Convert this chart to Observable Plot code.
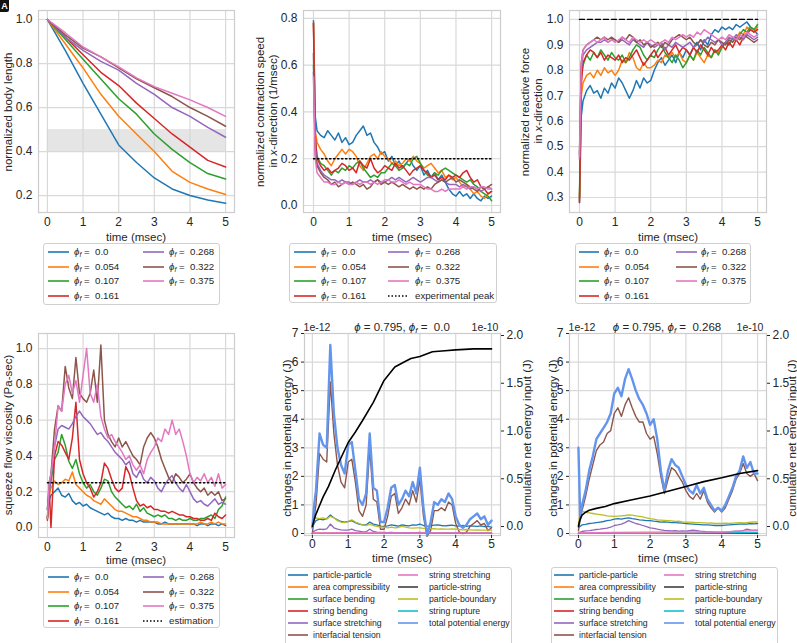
<!DOCTYPE html>
<html><head><meta charset="utf-8">
<script src="https://cdn.jsdelivr.net/npm/d3@7"></script>
<script src="https://cdn.jsdelivr.net/npm/@observablehq/plot@0.6"></script>
<style>
html,body{margin:0;padding:0;background:#fff;}
#fig{position:relative;width:797px;height:643px;overflow:hidden;background:#fff;font-family:"Liberation Sans",Arial,Helvetica,sans-serif;color:#262626;}
#fig svg{position:absolute;}
.lab{position:absolute;white-space:nowrap;font-size:11.5px;line-height:12px;text-align:center;}
.rot{transform:translate(-50%,-50%) rotate(-90deg);}
.hc{transform:translate(-50%,-50%);}
.leg{position:absolute;box-sizing:border-box;border:1px solid #d0d0d0;border-radius:3px;background:#fff;color:#262626;}
.leg svg.ln{position:absolute;overflow:visible;}
.leg .tx{position:absolute;white-space:nowrap;transform:translateY(-50%);line-height:1;}
sub.s{font-size:70%;vertical-align:-0.3em;line-height:0;}
</style></head><body><div id="fig"></div><script>
// ---------------- DATA ----------------
const xTicks = [0,1,2,3,4,5];
const phiLabels = ["0.0","0.054","0.107","0.161","0.268","0.322","0.375"];
// time grid for the noisy series (msec)
const tN = [0,0.05,0.1,0.2,0.3,0.4,0.5,0.6,0.7,0.8,0.9,1.0,1.1,1.2,1.3,1.4,1.5,1.6,1.7,1.8,1.9,2.0,2.1,2.2,2.3,2.4,2.5,2.6,2.7,2.8,2.9,3.0,3.1,3.2,3.3,3.4,3.5,3.6,3.7,3.8,3.9,4.0,4.1,4.2,4.3,4.4,4.5,4.6,4.7,4.8,4.9,5.0];
// (A) normalized body length
const tA = [0,0.5,1,1.5,2,2.5,3,3.5,4,4.5,5];
const len0   = [1.0,0.86,0.71,0.57,0.43,0.35,0.28,0.23,0.20,0.18,0.165];
const len054 = [1.0,0.89,0.78,0.66,0.56,0.48,0.40,0.31,0.26,0.23,0.205];
const len107 = [1.0,0.91,0.82,0.73,0.64,0.57,0.48,0.41,0.35,0.30,0.275];
const len161 = [1.0,0.92,0.84,0.76,0.70,0.62,0.55,0.48,0.42,0.36,0.33];
const len268 = [1.0,0.92,0.86,0.81,0.77,0.71,0.66,0.60,0.56,0.51,0.465];
const len322 = [1.0,0.93,0.87,0.83,0.78,0.73,0.69,0.65,0.60,0.56,0.515];
const len375 = [1.0,0.94,0.875,0.83,0.785,0.735,0.695,0.665,0.635,0.60,0.56];
const bandA = [0.4,0.5];
const yTicksA = [0.2,0.4,0.6,0.8,1.0];
// (B) contraction speed
const spd0   = [0.79,0.38, 0.32,0.30,0.29,0.32,0.30,0.28,0.31,0.27,0.29,0.26, 0.27,0.30,0.32,0.34,0.30,0.31,0.27,0.25,0.22,0.23, 0.19,0.21,0.17,0.19,0.16,0.18,0.20,0.17,0.15,0.17, 0.13,0.15,0.12,0.14,0.11,0.13,0.10,0.07,0.05,0.04, 0.06,0.04,0.05,0.03,0.05,0.03,0.02,0.04,0.03,0.04];
const spd054 = [0.78,0.32, 0.27,0.24,0.22,0.19,0.17,0.20,0.22,0.24,0.22,0.24, 0.23,0.21,0.17,0.15,0.18,0.21,0.22,0.20,0.23,0.21, 0.20,0.18,0.19,0.17,0.18,0.20,0.19,0.21,0.19,0.18, 0.16,0.17,0.18,0.16,0.14,0.15,0.12,0.13,0.11,0.12, 0.10,0.08,0.09,0.07,0.05,0.06,0.04,0.03,0.05,0.06];
const spd107 = [0.60,0.28, 0.21,0.18,0.17,0.15,0.13,0.15,0.14,0.16,0.15,0.17, 0.16,0.18,0.19,0.16,0.14,0.12,0.13,0.12,0.14,0.14, 0.16,0.18,0.17,0.15,0.16,0.18,0.17,0.20,0.21,0.18, 0.15,0.13,0.12,0.14,0.13,0.15,0.16,0.15,0.14,0.13, 0.12,0.11,0.10,0.11,0.09,0.08,0.06,0.05,0.04,0.02];
const spd161 = [0.78,0.30, 0.20,0.17,0.15,0.16,0.14,0.15,0.16,0.18,0.17,0.15, 0.16,0.14,0.19,0.17,0.16,0.20,0.16,0.14,0.15,0.17, 0.16,0.15,0.18,0.16,0.17,0.15,0.13,0.15,0.16,0.17, 0.15,0.14,0.12,0.13,0.11,0.12,0.11,0.13,0.12,0.13, 0.12,0.14,0.15,0.12,0.10,0.11,0.08,0.07,0.05,0.06];
const spd268 = [0.57,0.25, 0.18,0.15,0.13,0.12,0.11,0.11,0.10,0.11,0.10,0.10, 0.09,0.10,0.11,0.10,0.10,0.11,0.10,0.11,0.10,0.10, 0.11,0.12,0.11,0.12,0.11,0.10,0.11,0.12,0.11,0.10, 0.11,0.12,0.12,0.11,0.10,0.11,0.10,0.09,0.09,0.09, 0.08,0.09,0.08,0.07,0.08,0.07,0.06,0.07,0.08,0.07];
const spd322 = [0.65,0.22, 0.17,0.14,0.12,0.11,0.09,0.10,0.08,0.09,0.10,0.09, 0.10,0.09,0.08,0.09,0.07,0.08,0.10,0.11,0.09,0.10, 0.09,0.10,0.09,0.08,0.09,0.08,0.07,0.08,0.07,0.08, 0.07,0.08,0.07,0.09,0.10,0.11,0.10,0.11,0.12,0.10, 0.11,0.10,0.09,0.08,0.07,0.06,0.08,0.07,0.08,0.09];
const spd375 = [0.55,0.20, 0.14,0.12,0.10,0.10,0.09,0.09,0.10,0.09,0.10,0.09, 0.09,0.10,0.09,0.10,0.10,0.09,0.10,0.09,0.10,0.11, 0.11,0.10,0.10,0.11,0.10,0.09,0.10,0.09,0.09,0.09, 0.08,0.07,0.07,0.06,0.06,0.07,0.06,0.07,0.07,0.07, 0.07,0.08,0.07,0.08,0.08,0.07,0.08,0.08,0.07,0.07];
const expPeak = 0.2;
const yTicksB = [0.0,0.2,0.4,0.6,0.8];
// (C) reactive force
const frc0   = [0.28,0.62, 0.68,0.72,0.74,0.71,0.72,0.69,0.73,0.71,0.75,0.73, 0.77,0.75,0.72,0.69,0.72,0.76,0.73,0.77,0.75,0.76, 0.80,0.83,0.85,0.82,0.84,0.86,0.83,0.87,0.85,0.88, 0.86,0.89,0.91,0.88,0.92,0.90,0.94,0.96,0.95,0.97, 0.96,0.97,0.96,0.98,0.97,0.98,0.99,0.97,0.96,0.94];
const frc054 = [0.29,0.70, 0.75,0.78,0.79,0.77,0.80,0.78,0.81,0.79,0.80,0.78, 0.80,0.84,0.83,0.87,0.85,0.81,0.80,0.83,0.81,0.81, 0.82,0.84,0.83,0.86,0.85,0.87,0.85,0.87,0.84,0.83, 0.86,0.84,0.87,0.85,0.83,0.86,0.85,0.88,0.87,0.89, 0.91,0.90,0.93,0.92,0.95,0.94,0.97,0.96,0.95,0.97];
const frc107 = [0.30,0.78, 0.82,0.86,0.84,0.87,0.85,0.88,0.86,0.84,0.87,0.85, 0.84,0.86,0.83,0.85,0.88,0.90,0.89,0.86,0.84,0.86, 0.85,0.88,0.90,0.87,0.85,0.83,0.86,0.84,0.81,0.83, 0.86,0.84,0.88,0.86,0.89,0.87,0.85,0.88,0.86,0.89, 0.91,0.90,0.93,0.92,0.94,0.96,0.95,0.97,0.96,0.98];
const frc161 = [0.28,0.74, 0.83,0.86,0.88,0.87,0.85,0.87,0.84,0.86,0.85,0.84, 0.86,0.83,0.85,0.84,0.86,0.88,0.85,0.82,0.84,0.86, 0.88,0.85,0.87,0.89,0.86,0.88,0.90,0.87,0.89,0.88, 0.86,0.89,0.87,0.90,0.88,0.86,0.89,0.87,0.88,0.90, 0.88,0.91,0.89,0.92,0.90,0.93,0.94,0.96,0.95,0.96];
const frc268 = [0.45,0.80, 0.86,0.88,0.89,0.90,0.91,0.91,0.92,0.91,0.92,0.92, 0.91,0.92,0.91,0.90,0.92,0.91,0.90,0.89,0.91,0.90, 0.89,0.90,0.91,0.88,0.90,0.89,0.91,0.90,0.89,0.90, 0.91,0.89,0.90,0.92,0.91,0.93,0.92,0.91,0.92,0.90, 0.91,0.93,0.92,0.94,0.93,0.92,0.94,0.93,0.92,0.93];
const frc322 = [0.47,0.83, 0.88,0.90,0.91,0.92,0.93,0.92,0.93,0.92,0.93,0.92, 0.91,0.93,0.92,0.94,0.93,0.91,0.92,0.90,0.91,0.89, 0.90,0.91,0.89,0.91,0.90,0.92,0.93,0.94,0.93,0.92, 0.93,0.91,0.90,0.92,0.90,0.89,0.91,0.90,0.92,0.91, 0.90,0.92,0.91,0.93,0.92,0.94,0.93,0.92,0.91,0.92];
const frc375 = [0.46,0.82, 0.88,0.90,0.91,0.92,0.91,0.92,0.93,0.91,0.92,0.91, 0.92,0.93,0.92,0.91,0.93,0.92,0.91,0.92,0.91,0.92, 0.91,0.90,0.91,0.92,0.91,0.93,0.92,0.93,0.94,0.93, 0.94,0.93,0.95,0.94,0.96,0.95,0.94,0.93,0.92,0.93, 0.92,0.94,0.93,0.92,0.94,0.93,0.95,0.94,0.93,0.94];
const forceRef = 1.0;
const yTicksC = [0.3,0.4,0.5,0.6,0.7,0.8,0.9,1.0];
// (D) squeeze flow viscosity
const vis0   = [0.05,0.15, 0.18,0.20,0.22,0.18,0.17,0.19,0.15,0.13,0.14,0.12, 0.13,0.11,0.10,0.09,0.08,0.07,0.08,0.06,0.05,0.05, 0.04,0.05,0.04,0.04,0.03,0.04,0.03,0.03,0.03,0.03, 0.02,0.02,0.03,0.02,0.02,0.02,0.02,0.02,0.02,0.02, 0.02,0.01,0.02,0.02,0.01,0.02,0.02,0.01,0.02,0.01];
const vis054 = [0.05,0.18, 0.22,0.26,0.24,0.25,0.27,0.26,0.31,0.24,0.22,0.20, 0.18,0.17,0.15,0.14,0.13,0.16,0.14,0.12,0.10,0.09, 0.09,0.08,0.07,0.06,0.06,0.05,0.04,0.04,0.03,0.03, 0.03,0.02,0.02,0.02,0.02,0.02,0.02,0.02,0.02,0.02, 0.02,0.02,0.03,0.02,0.02,0.03,0.02,0.03,0.02,0.02];
const vis107 = [0.05,0.20, 0.26,0.38,0.42,0.52,0.46,0.37,0.33,0.38,0.30,0.25, 0.22,0.24,0.20,0.18,0.22,0.27,0.26,0.20,0.17,0.15, 0.13,0.11,0.12,0.10,0.13,0.09,0.11,0.08,0.07,0.06, 0.07,0.06,0.07,0.05,0.05,0.04,0.05,0.04,0.04,0.05, 0.04,0.04,0.05,0.05,0.06,0.07,0.05,0.10,0.12,0.17];
const vis161 = [0.04,0.22, 0.00,0.40,0.48,0.46,0.42,0.38,0.50,0.70,0.38,0.30, 0.25,0.22,0.17,0.20,0.25,0.36,0.33,0.27,0.22,0.20, 0.22,0.34,0.30,0.22,0.15,0.12,0.13,0.11,0.12,0.10, 0.10,0.09,0.09,0.08,0.09,0.08,0.07,0.07,0.06,0.06, 0.05,0.05,0.04,0.04,0.05,0.04,0.08,0.06,0.05,0.07];
const vis268 = [0.10,0.20, 0.28,0.45,0.55,0.57,0.56,0.55,0.58,0.62,0.65,0.62, 0.60,0.58,0.55,0.52,0.53,0.50,0.48,0.45,0.42,0.40, 0.38,0.35,0.37,0.30,0.28,0.32,0.27,0.25,0.28,0.26, 0.22,0.20,0.24,0.27,0.29,0.25,0.22,0.20,0.24,0.20, 0.16,0.14,0.15,0.13,0.12,0.14,0.16,0.13,0.14,0.13];
const vis322 = [0.10,0.25, 0.30,0.55,0.68,0.65,0.90,0.78,0.72,0.95,0.75,0.72, 0.70,0.75,0.88,0.70,1.02,0.60,0.52,0.48,0.45,0.50, 0.45,0.48,0.44,0.40,0.38,0.35,0.45,0.50,0.53,0.50, 0.45,0.38,0.33,0.28,0.25,0.30,0.28,0.25,0.27,0.30, 0.25,0.22,0.20,0.22,0.18,0.20,0.18,0.20,0.15,0.16];
const vis375 = [0.05,0.25, 0.30,0.45,0.68,0.65,0.80,0.85,0.75,0.82,0.70,0.85, 1.00,0.75,0.70,0.80,0.62,0.55,0.50,0.52,0.48,0.45, 0.42,0.38,0.40,0.35,0.32,0.35,0.30,0.38,0.42,0.45, 0.50,0.48,0.55,0.52,0.60,0.52,0.55,0.48,0.40,0.30, 0.25,0.28,0.26,0.30,0.25,0.28,0.23,0.30,0.22,0.24];
const estimation = 0.25;
const yTicksD = [0.0,0.2,0.4,0.6,0.8,1.0];
// (E,F) energies, left axis in 1e-12 J, right axis in 1e-10 J
const energyLabels = ["particle-particle","area compressibility","surface bending","string bending","surface stretching","interfacial tension","string stretching","particle-string","particle-boundary","string rupture","total potential energy"];
const yTicksLeft = [0,1,2,3,4,5,6,7];
const yTicksRight = [0.0,0.5,1.0,1.5,2.0];
const tFlat = [0,1,2,3,4,5];
const E_pp    = [0.20,0.35, 0.45,0.50,0.48,0.52,0.65,0.55,0.48,0.42,0.40,0.42, 0.45,0.38,0.33,0.30,0.30,0.40,0.33,0.30,0.26,0.25, 0.27,0.30,0.28,0.26,0.30,0.28,0.27,0.30,0.29,0.33, 0.28,0.26,0.27,0.29,0.30,0.28,0.27,0.28,0.29,0.27, 0.26,0.28,0.25,0.27,0.26,0.25,0.27,0.24,0.25,0.22];
const E_area  = [0.01,0.01,0.01,0.01,0.01,0.01];
const E_sbend = [0,0,0,0,0,0];
const E_strb  = [0,0,0,0,0,0];
const E_sstr  = [0.00,0.08, 0.12,0.15,0.14,0.16,0.33,0.20,0.15,0.13,0.12,0.12, 0.15,0.10,0.08,0.06,0.06,0.15,0.07,0.05,0.04,0.04, 0.03,0.04,0.03,0.03,0.03,0.03,0.03,0.03,0.03,0.04, 0.02,0.02,0.02,0.02,0.02,0.02,0.02,0.02,0.02,0.02, 0.02,0.02,0.02,0.02,0.02,0.02,0.02,0.02,0.02,0.02];
const E_itf   = [0.00,0.60, 1.00,2.80,2.60,2.50,5.30,3.50,2.40,1.80,1.60,2.50, 2.60,1.80,0.80,0.60,1.00,3.00,1.20,1.10,0.15,0.15, 0.60,1.30,1.40,0.70,0.90,1.20,1.00,1.50,1.10,1.90, 0.60,-0.10,0.10,0.80,0.80,0.90,0.80,1.10,1.00,0.35, 0.05,0.00,0.05,0.25,0.35,0.45,0.30,0.35,0.10,0.20];
const E_strs  = [0.02,0.03,0.02,0.02,0.02,0.02];
const E_pstr  = [0,0,0,0,0,0];
const E_pb    = [0.30,0.50, 0.55,0.52,0.55,0.50,0.60,0.55,0.45,0.40,0.38,0.42, 0.48,0.40,0.35,0.30,0.28,0.32,0.28,0.25,0.22,0.22, 0.20,0.22,0.20,0.21,0.25,0.22,0.20,0.19,0.20,0.20, 0.18,0.17,0.16,0.17,0.15,0.16,0.15,0.15,0.16,0.15, 0.14,0.13,0.14,0.13,0.12,0.13,0.12,0.12,0.12,0.12];
const E_rupt  = [0,0,0,0,0,0];
const E_total = [0.20,1.00, 1.50,3.50,3.10,3.00,6.60,4.20,3.00,2.40,2.10,3.10, 3.20,2.20,1.20,1.00,1.40,3.50,1.60,1.50,0.40,0.40, 0.90,1.60,1.70,1.00,1.20,1.50,1.30,1.80,1.40,2.30, 0.90,-0.05,0.40,1.10,1.00,1.20,1.10,1.40,1.20,0.60, 0.30,0.20,0.30,0.50,0.60,0.70,0.50,0.60,0.30,0.45];
const tEcum = [0,0.05,0.1,0.2,0.3,0.45,0.65,0.8,1.0,1.2,1.4,1.7,2.0,2.3,2.6,2.75,3.0,3.35,3.7,4.0,4.5,5.0];
const E_cum = [0.0,0.07,0.13,0.22,0.31,0.42,0.60,0.72,0.88,0.99,1.11,1.30,1.53,1.67,1.73,1.76,1.78,1.83,1.84,1.85,1.86,1.86];
const tFlat7 = [0,1,2,3,4,4.5,5];
const F_pp    = [0.20,0.25, 0.30,0.32,0.35,0.36,0.38,0.40,0.42,0.45,0.47,0.50, 0.52,0.50,0.53,0.55,0.52,0.50,0.48,0.47,0.45,0.45, 0.43,0.42,0.40,0.41,0.40,0.38,0.38,0.37,0.36,0.35, 0.34,0.33,0.32,0.31,0.30,0.30,0.29,0.28,0.28,0.28, 0.29,0.30,0.31,0.32,0.33,0.34,0.33,0.35,0.34,0.35];
const F_area  = [0.01,0.01,0.01,0.01,0.01,0.01];
const F_sbend = [0,0,0,0,0,0];
const F_strb  = [0,0,0,0,0,0];
const F_sstr  = [0.02,0.05, 0.07,0.09,0.10,0.12,0.14,0.15,0.17,0.19,0.22,0.28, 0.30,0.33,0.38,0.45,0.40,0.35,0.32,0.28,0.24,0.20, 0.18,0.15,0.13,0.11,0.10,0.09,0.10,0.08,0.09,0.08, 0.10,0.12,0.10,0.08,0.07,0.06,0.06,0.05,0.05,0.05, 0.05,0.06,0.07,0.08,0.08,0.10,0.15,0.13,0.12,0.12];
const F_itf   = [0.10,0.50, 0.80,1.30,1.90,2.40,2.90,3.10,3.20,3.50,3.60,4.20, 4.40,4.10,4.50,4.75,4.40,4.10,3.90,3.90,3.50,3.30, 3.40,2.80,2.00,1.40,1.90,2.30,2.20,2.00,1.80,1.50, 1.30,1.20,1.40,1.20,1.50,1.10,0.90,0.75,0.90,0.75, 0.90,1.20,1.50,1.90,2.10,2.45,2.10,2.00,2.10,1.85];
const F_strs  = [0.02,0.04,0.05,0.06,0.05,0.08,0.10];
const F_pstr  = [0,0,0,0,0,0];
const F_pb    = [0.30,0.75, 0.78,0.74,0.72,0.70,0.68,0.66,0.64,0.62,0.61,0.60, 0.61,0.62,0.63,0.65,0.64,0.62,0.60,0.58,0.55,0.52, 0.50,0.48,0.47,0.46,0.45,0.44,0.42,0.43,0.41,0.40, 0.40,0.39,0.38,0.38,0.37,0.36,0.37,0.35,0.35,0.35, 0.36,0.35,0.36,0.37,0.38,0.37,0.38,0.40,0.41,0.40];
const F_rupt  = [0,0,0,0.01,0.02,0.04];
const F_total = [3.00,0.50, 1.00,1.50,2.20,2.70,3.30,3.50,3.70,3.90,4.20,4.90, 5.10,4.80,5.40,5.75,5.40,5.00,4.70,4.50,4.20,3.80, 4.00,3.30,2.20,1.50,2.20,2.60,2.40,2.30,2.00,1.70, 1.50,1.40,1.70,1.40,1.60,1.20,1.00,0.80,0.90,0.80, 1.00,1.30,1.60,2.00,2.20,2.70,2.30,2.50,2.10,2.10];
const tFcum = [0,0.02,0.05,0.1,0.2,0.3,0.5,0.75,1.0,1.5,2.0,2.5,3.0,3.5,4.0,4.5,5.0];
const F_cum = [0.0,0.04,0.08,0.12,0.15,0.17,0.19,0.21,0.24,0.28,0.32,0.37,0.42,0.47,0.51,0.555,0.585];

// ---------------- STYLE ----------------
const FONT = '"Liberation Sans", Arial, Helvetica, sans-serif';
const INK = "#262626", GRID = "#d9d9d9", EDGE = "#cccccc";
const C7 = ["#1f77b4","#ff7f0e","#2ca02c","#d62728","#9467bd","#8c564b","#e377c2"];
const CE = ["#1f77b4","#ff7f0e","#2ca02c","#d62728","#9467bd","#8c564b","#e377c2","#404040","#bcbd22","#17becf","#6495ed"];
const fig = document.getElementById("fig");
const M = {l:50, r:50, t:25, b:45};
const SVGNS = "http://www.w3.org/2000/svg";

const ser = (t, v, color, w=1.5, y=(d)=>d) =>
  Plot.line(t.map((x,i)=>[x, y(v[i])]), {x:d=>d[0], y:d=>d[1], stroke:color, strokeWidth:w});
const hline = (val, dash) => Plot.line([[0,val],[5,val]], {x:d=>d[0], y:d=>d[1], stroke:"#000", strokeWidth:1.4, strokeDasharray:dash});

function panel(o){
  const [x0,y0,x1,y1] = o.frame;
  const ts = o.ticked ? 3 : 0;
  const marks = [
    Plot.gridX({ticks:xTicks, stroke:GRID, strokeOpacity:1, strokeWidth:1.2}),
    Plot.gridY({ticks:o.yTicks, stroke:GRID, strokeOpacity:1, strokeWidth:1.2}),
    ...(o.under||[]),
    Plot.frame({stroke:EDGE, strokeWidth:1.2}),
    ...o.marks,
    Plot.axisX({ticks:xTicks, tickSize:ts, tickPadding:o.ticked?0.5:5, tickFormat:d=>String(d), label:null}),
    Plot.axisY({ticks:o.yTicks, tickSize:ts, tickPadding:o.ticked?3:6, tickFormat:o.yFmt, label:null}),
    ...(o.extra||[])
  ];
  const svg = Plot.plot({
    width:(x1-x0)+M.l+M.r, height:(y1-y0)+M.t+M.b,
    marginLeft:M.l, marginRight:M.r, marginTop:M.t, marginBottom:M.b,
    x:{domain:o.xDomain}, y:{domain:o.yDomain},
    style:{fontSize:"12px", fontFamily:FONT, color:INK, background:"none", overflow:"visible"},
    marks
  });
  svg.style.left = (x0-M.l)+"px"; svg.style.top = (y0-M.t)+"px";
  fig.appendChild(svg);
}
function label(html, x, y, cls, size){
  const d = document.createElement("div");
  d.className = "lab " + cls; d.innerHTML = html;
  d.style.left = x+"px"; d.style.top = y+"px";
  if (size) d.style.fontSize = size+"px";
  fig.appendChild(d);
}
function legend(o){
  const box = document.createElement("div"); box.className = "leg";
  Object.assign(box.style, {left:o.left+"px", top:o.top+"px", width:o.width+"px", height:o.height+"px", fontSize:o.fs+"px"});
  o.cols.forEach(c => c.items.forEach((it,i) => {
    const y = o.rows[i];
    const s = document.createElementNS(SVGNS, "svg"); s.setAttribute("class","ln");
    s.setAttribute("width", c.l1-c.l0); s.setAttribute("height", 4);
    s.style.left = c.l0+"px"; s.style.top = (y-2)+"px";
    const l = document.createElementNS(SVGNS, "line");
    l.setAttribute("x1",0); l.setAttribute("x2",c.l1-c.l0); l.setAttribute("y1",2); l.setAttribute("y2",2);
    l.setAttribute("stroke", it.color); l.setAttribute("stroke-width", 1.6);
    if (it.dash) l.setAttribute("stroke-dasharray", it.dash);
    s.appendChild(l);
    const tx = document.createElement("div"); tx.className = "tx";
    tx.style.left = c.tx+"px"; tx.style.top = y+"px"; tx.innerHTML = it.html;
    box.append(s, tx);
  }));
  fig.appendChild(box);
}
const phiHtml = v => `<i>ϕ</i><sub class="s"><i>f</i></sub> =&nbsp; ${v}`;
const phiItems = phiLabels.map((v,i)=>({html:phiHtml(v), color:C7[i]}));
const f1 = d => d.toFixed(1);

// ---------------- PANEL A ----------------
panel({frame:[38,10,234,212], xDomain:[-0.25,5.25], yDomain:[0.123,1.041], yTicks:yTicksA, yFmt:f1,
  under:[Plot.rect([bandA], {x1:0, x2:5, y1:d=>d[0], y2:d=>d[1], fill:"#d4d4d4", fillOpacity:0.6})],
  marks:[len0,len054,len107,len161,len268,len322,len375].map((v,i)=>ser(tA,v,C7[i],1.5))});
// ---------------- PANEL B ----------------
panel({frame:[303,10,500,212], xDomain:[-0.28,5.25], yDomain:[-0.030,0.834], yTicks:yTicksB, yFmt:f1,
  marks:[...[spd0,spd054,spd107,spd161,spd268,spd322,spd375].map((v,i)=>ser(tN,v,C7[i],1.5)), hline(expPeak,"1.5,2.5")]});
// ---------------- PANEL C ----------------
panel({frame:[569,10,766,212], xDomain:[-0.28,5.25], yDomain:[0.241,1.035], yTicks:yTicksC, yFmt:f1,
  marks:[...[frc0,frc054,frc107,frc161,frc268,frc322,frc375].map((v,i)=>ser(tN,v,C7[i],1.5)), hline(forceRef,"5,3")]});
// ---------------- PANEL D ----------------
panel({frame:[38,333,234,537], xDomain:[-0.25,5.25], yDomain:[-0.056,1.084], yTicks:yTicksD, yFmt:f1,
  marks:[...[vis0,vis054,vis107,vis161,vis268,vis322,vis375].map((v,i)=>ser(tN,v,C7[i],1.5)), hline(estimation,"1.5,2.5")]});

// ---------------- PANELS E, F (dual axis) ----------------
function energyPanel(frame, xDomain, S){
  const L0=-0.07, L1=7.0, R0=-0.094, R1=2.021;
  const toL = v => L0 + (v-R0)/(R1-R0)*(L1-L0);
  const fromL = d => R0 + (d-L0)/(L1-L0)*(R1-R0);
  panel({frame, xDomain, yDomain:[L0,L1], yTicks:yTicksLeft, yFmt:d=>String(d), ticked:true,
    marks:[
      ser(tFlat,S.area,CE[1],1.2), ser(tFlat,S.sbend,CE[2],1.2), ser(tFlat,S.strb,CE[3],1.2),
      ser(tFlat,S.pstr,CE[7],1.2), ser(tFlat,S.rupt,CE[9],1.2),
      ser(tN,S.pp,CE[0],1.3), ser(tN,S.sstr,CE[4],1.3), ser(tN,S.itf,CE[5],1.4),
      ser(S.tStrs,S.strs,CE[6],1.3), ser(tN,S.pb,CE[8],1.3),
      ser(tN,S.total,CE[10],2.4),
      ser(S.tCum,S.cum,"#000",1.6,toL)
    ],
    extra:[Plot.axisY({anchor:"right", ticks:yTicksRight.map(toL), tickSize:3, tickPadding:3, label:null,
      tickFormat:d=>{const v=fromL(d); return (Math.abs(v)<1e-6?0:v).toFixed(1);}})]
  });
}
energyPanel([304,333,500,535],[-0.22,5.25],
  {area:E_area,sbend:E_sbend,strb:E_strb,pstr:E_pstr,rupt:E_rupt,pp:E_pp,sstr:E_sstr,itf:E_itf,tStrs:tFlat,strs:E_strs,pb:E_pb,total:E_total,tCum:tEcum,cum:E_cum});
energyPanel([569,333,766,535],[-0.25,5.25],
  {area:F_area,sbend:F_sbend,strb:F_strb,pstr:F_pstr,rupt:F_rupt,pp:F_pp,sstr:F_sstr,itf:F_itf,tStrs:tFlat7,strs:F_strs,pb:F_pb,total:F_total,tCum:tFcum,cum:F_cum});

// ---------------- LABELS ----------------
label("normalized body length", 8, 112, "rot");
label("normalized contraction speed", 260, 112, "rot");
label("in <i>x</i>-direction (1/msec)", 273, 111, "rot");
label("normalized reactive force", 525, 112, "rot");
label("in <i>x</i>-direction", 538, 111, "rot");
label("squeeze flow viscosity (Pa-sec)", 8, 435, "rot");
label("changes in potential energy (J)", 287, 438, "rot");
label("cumulative net energy input (J)", 527, 438, "rot");
label("changes in potential energy (J)", 553, 438, "rot");
label("cumulative net energy input (J)", 792, 438, "rot");
[[136,237],[402,237],[668,237],[136,560],[402,558],[668,558]].forEach(([x,y])=>label("time (msec)", x, y, "hc"));
label(`<i>ϕ</i> = 0.795, <i>ϕ</i><sub class="s"><i>f</i></sub> =&nbsp; 0.0`, 402, 327, "hc");
label(`<i>ϕ</i> = 0.795, <i>ϕ</i><sub class="s"><i>f</i></sub> =&nbsp; 0.268`, 667, 327, "hc");
label("1e-12", 317, 327, "hc", 10.5);
label("1e-10", 485, 327, "hc", 10.5);
label("1e-12", 582, 327, "hc", 10.5);
label("1e-10", 750, 327, "hc", 10.5);
const tag = document.createElement("div");
Object.assign(tag.style,{position:"absolute",left:"0px",top:"0px",width:"9px",height:"12px",background:"#111",color:"#fff",fontSize:"9px",fontWeight:"bold",lineHeight:"12px",textAlign:"center",borderRadius:"0 0 2px 0"});
tag.textContent = "A"; fig.appendChild(tag);

// ---------------- LEGENDS ----------------
const rows4 = [8,22.7,37.4,52];
legend({left:43, top:243, width:177, height:62, fs:9.7, rows:rows4,
  cols:[{l0:4,l1:25,tx:30,items:phiItems.slice(0,4)},{l0:99,l1:120,tx:125,items:phiItems.slice(4)}]});
legend({left:289, top:243, width:208, height:60, fs:9.7, rows:rows4,
  cols:[{l0:4,l1:26,tx:31,items:phiItems.slice(0,4)},{l0:98,l1:119,tx:125,items:[...phiItems.slice(4),{html:"experimental peak",color:"#000",dash:"1.5,2"}]}]});
legend({left:575, top:243, width:176, height:61, fs:9.7, rows:rows4,
  cols:[{l0:3,l1:23,tx:28,items:phiItems.slice(0,4)},{l0:100,l1:121,tx:125,items:phiItems.slice(4)}]});
legend({left:43, top:567, width:177, height:61, fs:9.7, rows:[9,23.5,38,52.5],
  cols:[{l0:4,l1:25,tx:30,items:phiItems.slice(0,4)},{l0:99,l1:120,tx:125,items:[...phiItems.slice(4),{html:"estimation",color:"#000",dash:"1.5,2"}]}]});
const eItems = energyLabels.map((s,i)=>({html:s, color:CE[i]}));
const rows6 = [7,19,31,43,55,67];
legend({left:285, top:567, width:227, height:80, fs:8.7, rows:rows6,
  cols:[{l0:2,l1:22,tx:27,items:eItems.slice(0,6)},{l0:112,l1:132,tx:143,items:eItems.slice(6)}]});
legend({left:551, top:567, width:227, height:80, fs:8.7, rows:rows6,
  cols:[{l0:2,l1:22,tx:27,items:eItems.slice(0,6)},{l0:112,l1:132,tx:143,items:eItems.slice(6)}]});
</script></body></html>
